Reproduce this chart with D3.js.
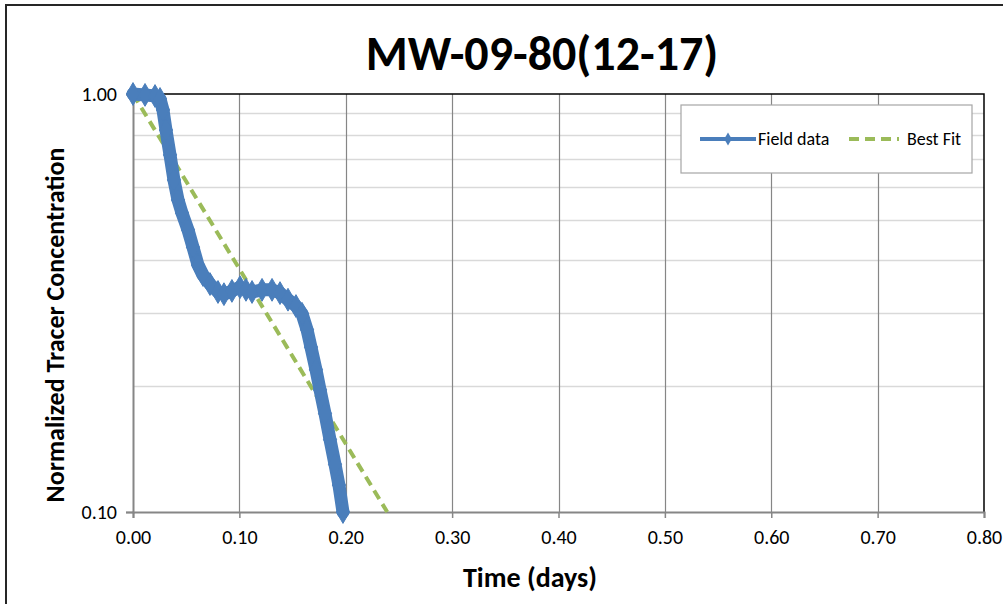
<!DOCTYPE html>
<html>
<head>
<meta charset="utf-8">
<script src="https://cdn.jsdelivr.net/npm/d3@7"></script>
<style>
  body { margin: 0; background: #fff; }
  svg { display: block; }
</style>
</head>
<body>
<div id="chart"></div>
<script>
const chartTitle = 'MW-09-80(12-17)';
const xTitle = 'Time (days)';
const yTitle = 'Normalized Tracer Concentration';

// field data (days, normalized concentration)
const fieldTime = [0, 0.0113, 0.0207, 0.0254, 0.0282, 0.031, 0.0348, 0.0385, 0.0423, 0.0461,
  0.0517, 0.0564, 0.0611, 0.0658, 0.0724, 0.0799, 0.0855, 0.093, 0.1006, 0.1062, 0.1119,
  0.1213, 0.1307, 0.1382, 0.1457, 0.1532, 0.1589, 0.1636, 0.1673, 0.172, 0.1758, 0.1805,
  0.1852, 0.1899, 0.1936, 0.1974];
const fieldConc = [1.0, 0.995, 0.989, 0.973, 0.916, 0.82, 0.715, 0.623, 0.558, 0.519,
  0.473, 0.43, 0.39, 0.369, 0.351, 0.336, 0.332, 0.338, 0.345, 0.34, 0.336,
  0.34, 0.34, 0.334, 0.322, 0.311, 0.298, 0.273, 0.248, 0.219, 0.196, 0.172,
  0.149, 0.13, 0.116, 0.1];

// best fit line (straight on the log axis)
const fitTime = [0, 0.239];
const fitConc = [1.0, 0.1];

const xTicks = [0, 0.1, 0.2, 0.3, 0.4, 0.5, 0.6, 0.7, 0.8];
const yTicks = [0.1, 1.0];
const yMinor = [0.2, 0.3, 0.4, 0.5, 0.6, 0.7, 0.8, 0.9];

const W = 1003, H = 604;
const plot = {left: 133, right: 984, top: 94, bottom: 512};
const blue = '#4a7ebb', green = '#9bbb59';
const font = 'Carlito, Calibri, Lato, sans-serif';

const svg = d3.select('#chart').append('svg')
  .attr('width', W).attr('height', H);

// outer chart border
svg.append('rect')
  .attr('x', 6).attr('y', 5).attr('width', 1200).attr('height', 800)
  .attr('fill', '#fff').attr('stroke', '#262626').attr('stroke-width', 2);

const x = d3.scaleLinear().domain([0, 0.8]).range([plot.left, plot.right]);
const y = d3.scaleLog().domain([0.1, 1]).range([plot.bottom, plot.top]);

// minor horizontal grid
svg.append('g').selectAll('line').data(yMinor).enter().append('line')
  .attr('x1', plot.left).attr('x2', plot.right)
  .attr('y1', d => Math.round(y(d)) + 0.5).attr('y2', d => Math.round(y(d)) + 0.5)
  .attr('stroke', '#d9d9d9').attr('stroke-width', 1.5);

// vertical grid
svg.append('g').selectAll('line').data(xTicks.slice(1, -1)).enter().append('line')
  .attr('x1', d => Math.round(x(d)) + 0.5).attr('x2', d => Math.round(x(d)) + 0.5)
  .attr('y1', plot.top).attr('y2', plot.bottom)
  .attr('stroke', '#868686').attr('stroke-width', 1.2);

// plot frame top and right (black), axes grey
svg.append('path')
  .attr('d', `M${plot.left},${plot.top}H${plot.right}V${plot.bottom}`)
  .attr('fill', 'none').attr('stroke', '#000').attr('stroke-width', 1.5);

const xAxis = d3.axisBottom(x).tickValues(xTicks).tickSize(6).tickPadding(12)
  .tickFormat(d3.format('.2f'));
const gx = svg.append('g').attr('transform', `translate(0,${plot.bottom})`).call(xAxis);
const yAxis = d3.axisLeft(y).tickValues(yTicks).tickSize(7).tickPadding(9)
  .tickFormat(d3.format('.2f'));
const gy = svg.append('g').attr('transform', `translate(${plot.left},0)`).call(yAxis);
[gx, gy].forEach(g => {
  g.select('.domain').attr('stroke', '#868686').attr('stroke-width', 2);
  g.selectAll('.tick line').attr('stroke', '#868686').attr('stroke-width', 1.5);
  g.selectAll('.tick text').attr('fill', '#000')
    .style('font-family', font).style('font-size', '20px');
});

// best fit
const fitData = fitTime.map((t, i) => [t, fitConc[i]]);
svg.append('path').datum(fitData)
  .attr('d', d3.line().x(d => x(d[0])).y(d => y(d[1])))
  .attr('fill', 'none').attr('stroke', green).attr('stroke-width', 4)
  .attr('stroke-dasharray', '10,6');

// field data: thick line with diamond markers
const fieldData = fieldTime.map((t, i) => [t, fieldConc[i]]);
svg.append('path').datum(fieldData)
  .attr('d', d3.line().x(d => x(d[0])).y(d => y(d[1])))
  .attr('fill', 'none').attr('stroke', blue).attr('stroke-width', 13)
  .attr('stroke-linejoin', 'round').attr('stroke-linecap', 'round');
const diamond = d3.symbol().type(d3.symbolDiamond).size(150);
svg.append('g').selectAll('path').data(fieldData).enter().append('path')
  .attr('transform', d => `translate(${x(d[0])},${y(d[1])})`)
  .attr('d', diamond)
  .attr('fill', blue).attr('stroke', blue).attr('stroke-width', 1);

// title and axis titles
svg.append('text').attr('x', 542).attr('y', 70).attr('text-anchor', 'middle')
  .style('font-family', font).style('font-weight', 'bold').style('font-size', '48px')
  .text(chartTitle);
svg.append('text').attr('x', 530).attr('y', 587).attr('text-anchor', 'middle')
  .style('font-family', font).style('font-weight', 'bold').style('font-size', '28px')
  .text(xTitle);
svg.append('text').attr('transform', 'translate(64,325) rotate(-90)')
  .attr('text-anchor', 'middle')
  .style('font-family', font).style('font-weight', 'bold').style('font-size', '26px')
  .text(yTitle);

// legend
const lg = svg.append('g').attr('transform', 'translate(681,105)');
lg.append('rect').attr('width', 291).attr('height', 68)
  .attr('fill', '#fff').attr('stroke', '#a6a6a6').attr('stroke-width', 1.2);
lg.append('line').attr('x1', 19).attr('x2', 75).attr('y1', 34).attr('y2', 34)
  .attr('stroke', blue).attr('stroke-width', 4);
lg.append('path').attr('transform', 'translate(47,34)')
  .attr('d', d3.symbol().type(d3.symbolDiamond).size(50)).attr('fill', blue);
lg.append('text').attr('x', 77).attr('y', 40)
  .style('font-family', font).style('font-size', '18px').text('Field data');
lg.append('line').attr('x1', 168).attr('x2', 218).attr('y1', 34).attr('y2', 34)
  .attr('stroke', green).attr('stroke-width', 4).attr('stroke-dasharray', '10,6');
lg.append('text').attr('x', 226).attr('y', 40)
  .style('font-family', font).style('font-size', '18px').text('Best Fit');
</script>
</body>
</html>
